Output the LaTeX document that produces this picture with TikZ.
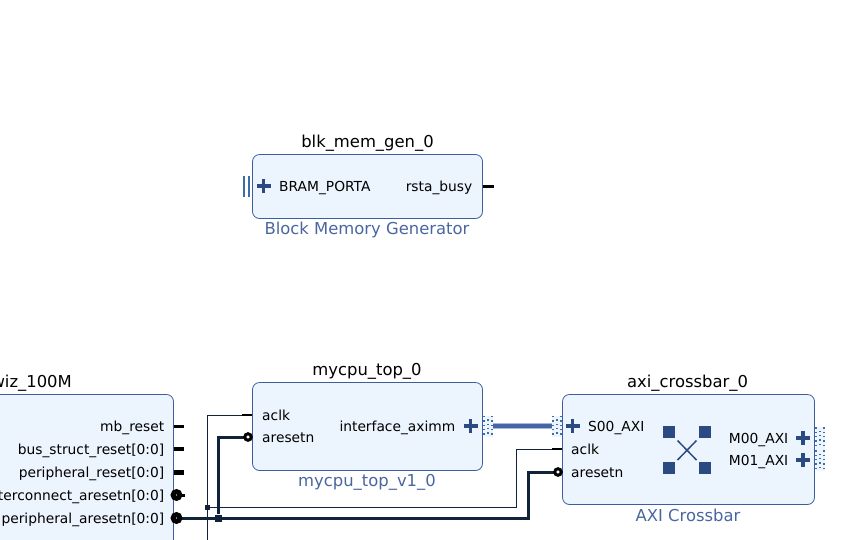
\documentclass[tikz,border=0pt]{standalone}
\usepackage{fontspec}
\setmainfont{DejaVu Sans}
\usetikzlibrary{positioning,arrows.meta}

\definecolor{ipfill}{HTML}{ECF4FE}
\definecolor{ipedge}{HTML}{3D5E9E}
\definecolor{iptext}{HTML}{4A66A0}
\definecolor{plusblue}{HTML}{2B4A82}
\definecolor{wiredark}{HTML}{11233A}
\definecolor{busblue}{HTML}{4566A6}
\definecolor{bushalo}{HTML}{A9BAD8}
\definecolor{tickblue}{HTML}{3A6EA5}

\tikzset{
	ipblock/.style={draw=ipedge,fill=ipfill,rounded corners=7pt,line width=0.8pt,inner sep=0pt,minimum width=#1},
	iptitle/.style={font=\fontsize{16.4}{18}\selectfont,text=black,inner sep=0pt},
	ipname/.style={font=\fontsize{16.4}{18}\selectfont,text=iptext,inner sep=0pt},
	pinleft/.style={font=\fontsize{13.8}{16}\selectfont,anchor=west,inner sep=0pt},
	pinright/.style={font=\fontsize{13.8}{16}\selectfont,anchor=east,inner sep=0pt},
	plusmark/.style={draw=plusblue,line width=3.2pt},
	stub/.style={draw=black,line width=#1},
	thinwire/.style={draw=wiredark,line width=1pt},
	thickwire/.style={draw=wiredark,line width=3pt},
	bubble/.style={circle,draw=black,fill=white,line width=3pt,minimum size=6.5pt,inner sep=0pt},
	bubblefull/.style={circle,draw=black,fill=black,line width=1pt,minimum size=11pt,inner sep=0pt},
	junction/.style={fill=wiredark,draw=none,minimum size=#1,inner sep=0pt}
}

\begin{document}
\begin{tikzpicture}[x=1pt,y=-1pt,>=Latex]

	\path[use as bounding box,clip] (0,0) rectangle (851,539);

	% blocks
	\node[ipblock=230pt,minimum height=64pt] (blkmem) at (367.5,186.5){};

	\node[ipblock=230pt,minimum height=88pt] (mycpu) at (367.5,426.5){};

	\node[ipblock=252pt,minimum height=110pt] (crossbar) at (688.5,449.5){};

	\node[ipblock=300pt,minimum height=220pt] (rstclk) at (23.5,504.5){};

	% titles
	\node[iptitle] (blktitle) at (367.5,143){blk\_mem\_gen\_0};

	\node[ipname] (blkname) at (367,230){Block Memory Generator};

	\node[iptitle] (cputitle) at (367,371){mycpu\_top\_0};

	\node[ipname] (cpuname) at (367,482){mycpu\_top\_v1\_0};

	\node[iptitle] (xbartitle) at (687.5,383){axi\_crossbar\_0};

	\node[ipname] (xbarname) at (688,515){AXI Crossbar};

	\node[iptitle,anchor=east] (rsttitle) at (72,383){wiz\_100M};

	% pin labels
	\node[pinleft] (bram) at (279,187.5){BRAM\_PORTA};

	\node[pinright] (busy) at (472.5,187.5){rsta\_busy};

	\node[pinleft] (cpuclk) at (262,415.5){aclk};

	\node[pinleft] (cpurst) at (262,438){aresetn};

	\node[pinright] (aximm) at (455.5,427.5){interface\_aximm};

	\node[pinleft] (s00) at (588,427.5){S00\_AXI};

	\node[pinleft] (xbarclk) at (571,449.5){aclk};

	\node[pinleft] (xbarrst) at (571,473){aresetn};

	\node[pinright] (m00) at (788.5,439.5){M00\_AXI};

	\node[pinright] (m01) at (788.5,461.5){M01\_AXI};

	\node[pinright] (mbreset) at (164.5,427.5){mb\_reset};

	\node[pinright] (busreset) at (164.5,450.5){bus\_struct\_reset[0:0]};

	\node[pinright] (perreset) at (164.5,473.5){peripheral\_reset[0:0]};

	\node[pinright] (icreset) at (164.5,496.5){interconnect\_aresetn[0:0]};

	\node[pinright] (perresetn) at (164.5,519.5){peripheral\_aresetn[0:0]};

	% plus marks
	\foreach \x/\y in {263.7/186,470.7/426,572.7/426,803/438,803/460}
	{
		\draw[plusmark] (\x-6.8,\y)--(\x+6.8,\y);
		\draw[plusmark] (\x,\y-6.8)--(\x,\y+6.8);
	}

	% bus ends
	\draw[tickblue,line width=1.8pt] (244,176)--(244,197);

	\draw[tickblue,line width=1.8pt] (249,176)--(249,197);

	\fill[ipfill] (483.5,416) rectangle (493,437);

	\fill[ipfill] (552,416) rectangle (561.5,437);

	\fill[ipfill] (815.5,427) rectangle (825,471);

	\foreach \x/\y in {483/416.7,552/416.7,815/428,815/451}
	{
		\foreach \k in {0,...,4}
		{
			\fill[tickblue] (\x,\y+\k*4.35-0.7) rectangle (\x+2,\y+\k*4.35+0.7);
			\fill[tickblue] (\x+8,\y+\k*4.35-0.7) rectangle (\x+10,\y+\k*4.35+0.7);
		}
		\foreach \k in {0,...,3}
		{
			\fill[tickblue] (\x+3.6,\y+\k*4.35+2.5) rectangle (\x+6.2,\y+\k*4.35+3.8);
		}
	}

	% named wire ends
	\coordinate (cpubus) at (493,426);

	\coordinate (xbarbus) at (552,426);

	\coordinate (clkdown) at (207,545);

	\coordinate (clkpin) at (252,415);

	\coordinate (xclkpin) at (562,449);

	\coordinate (rstout) at (182,518);

	% bus
	\draw[bushalo,line width=5.5pt] (cpubus)--(xbarbus);

	\draw[busblue,line width=3.4pt] (cpubus)--(xbarbus);

	% clock and reset wires
	\node[junction=5pt] (clkdot) at (207,507){};

	\node[junction=7pt] (rstdot) at (218,518){};

	\draw[thinwire] (clkdown)--(207,415)--(clkpin);

	\draw[thinwire] (clkdot)--(516,507)--(516,449)--(xclkpin);

	\draw[thickwire] (rstout)--(528,518)--(528,472)--(557,472);

	\draw[thickwire] (rstdot)--(218,437)--(247,437);

	% stubs
	\draw[stub=2.6pt] (242,415)--(clkpin);

	\draw[stub=2.6pt] (552,449)--(xclkpin);

	\draw[stub=3pt] (483,186)--(494,186);

	\draw[stub=3pt] (174,426)--(184,426);

	\draw[stub=4pt] (174,449)--(184,449);

	\draw[stub=5pt] (174,472)--(184,472);

	\draw[stub=3pt] (174,495)--(185,495);

	% bubbles
	\node[bubble] (cpubub) at (248,437){};

	\node[bubble] (xbarbub) at (558,472){};

	\foreach \y/\n in {495/ic,518/per}
	{
		\node[bubblefull] (\n bub) at (176.5,\y){};
		\fill[white] (176.5,\y) circle (0.7pt);
	}

	% crossbar icon
	\foreach \x/\y in {669/432,705/432,669/468,705/468}
	{
		\fill[plusblue] (\x-6,\y-6) rectangle (\x+6,\y+6);
	}

	\draw[plusblue,line width=1.5pt] (677.5,440.5)--(696.5,460);

	\draw[plusblue,line width=1.5pt] (696.5,440.5)--(677.5,460);

\end{tikzpicture}
\end{document}
